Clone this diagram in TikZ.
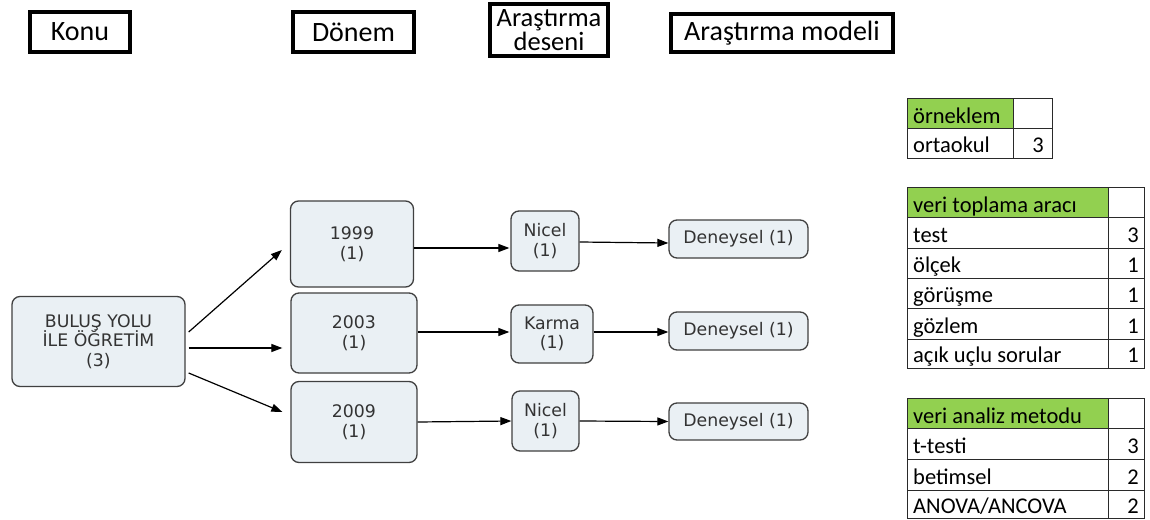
\documentclass[tikz,border=0pt]{standalone}
\usepackage{fontspec}
\setmainfont{Carlito}
\newfontfamily\verd{DejaVu Sans}
\usetikzlibrary{arrows.meta,calc}
\definecolor{boxfill}{HTML}{EAF0F4}
\definecolor{boxline}{HTML}{404040}
\definecolor{xlgreen}{HTML}{92D050}
\definecolor{txtgray}{HTML}{333333}
\definecolor{gridline}{HTML}{2A2A2A}
\begin{document}
\begin{tikzpicture}[x=1pt,y=-1pt,
  hdr/.style={draw, line width=3.5pt, inner sep=0pt, font=\fontsize{28}{25}\selectfont, align=center},
  fbox/.style={draw=boxline, line width=1.3pt, fill=boxfill, rounded corners=8pt,
     font=\verd\fontsize{17.3}{19.5}\selectfont, text=txtgray, align=center, inner sep=0pt},
  arr/.style={-{Triangle[length=11pt,width=8pt]}, line width=1.2pt},
  grid/.style={draw=gridline, line width=1pt},
  cell/.style={font=\fontsize{22.5}{24}\selectfont, inner sep=0pt}
]
\useasboundingbox[fill=white] (0,0) rectangle (1150,519);

% header boxes
\node[hdr, minimum width=100pt, minimum height=40pt] (hkonu) at (80,32) {Konu};
\node[hdr, minimum width=121pt, minimum height=40pt] (hdonem) at (353.5,32) {Dönem};
\node[hdr, minimum width=118pt, minimum height=52pt, font=\fontsize{26.5}{24.5}\selectfont] (hdesen) at (549,30) {Araştırma\\deseni};
\node[hdr, minimum width=222pt, minimum height=38pt] (hmodel) at (782,33) {Araştırma modeli};

% diagram nodes
\node[fbox, minimum width=173pt, minimum height=90pt] (bul) at (98.5,341.5) {BULUŞ YOLU\\İLE ÖĞRETİM\\(3)};
\node[fbox, minimum width=123pt, minimum height=86pt] (d1) at (352,244) {1999\\(1)};
\node[fbox, minimum width=126pt, minimum height=80pt] (d2) at (354,333) {2003\\(1)};
\node[fbox, minimum width=126pt, minimum height=81pt] (d3) at (354,422) {2009\\(1)};
\node[fbox, minimum width=68pt, minimum height=60pt] (n1) at (545,241) {Nicel\\(1)};
\node[fbox, minimum width=82pt, minimum height=58pt] (k2) at (552,334) {Karma\\(1)};
\node[fbox, minimum width=67pt, minimum height=60pt] (n3) at (545.5,421) {Nicel\\(1)};
\node[fbox, minimum width=139pt, minimum height=38pt] (m1) at (738.5,239) {Deneysel (1)};
\node[fbox, minimum width=139pt, minimum height=38pt] (m2) at (738.5,331) {Deneysel (1)};
\node[fbox, minimum width=139pt, minimum height=37pt] (m3) at (738.5,421.5) {Deneysel (1)};

% connectors
\draw[arr] ($(bul.east)+(3,-9.5)$) -- ($(d1.west)+(-8,6)$);
\draw[arr] ($(bul.east)+(3,6.5)$) -- ($(d2.west)+(-8,15)$);
\draw[arr] ($(bul.east)+(3,31.5)$) -- ($(d3.west)+(-8,-10)$);
\draw[arr] ($(d1.east)+(0,4)$) -- ($(n1.west)+(-1,7)$);
\draw[arr] ($(d2.east)+(0,-1)$) -- ($(k2.west)+(-1,-2)$);
\draw[arr] (d3.east) -- (n3.west);
\draw[arr] ($(n1.east)+(0,1)$) -- ($(m1.west)+(0,4)$);
\draw[arr] ($(k2.east)+(0,-2)$) -- ($(m2.west)+(0,1)$);
\draw[arr] (n3.east) -- (m3.west);

% table 1
\fill[xlgreen] (907,98) rectangle (1013,128);
\draw[grid] (907,98) rectangle (1052,158);
\draw[grid] (907,128) -- (1052,128);
\draw[grid] (1013,98) -- (1013,158);
\node[cell, anchor=base west] (t1h) at (913,123) {örneklem};
\node[cell, anchor=base west] (t1a) at (913,152) {ortaokul};
\node[cell, anchor=base east] (t1an) at (1044,152) {3};

% table 2
\fill[xlgreen] (907,187) rectangle (1108,217);
\draw[grid] (907,187) rectangle (1144,368);
\foreach \yy in {217,248,278,308,339} \draw[grid] (907,\yy) -- (1144,\yy);
\draw[grid] (1108,187) -- (1108,368);
\node[cell, anchor=base west] (t2h) at (913,212) {veri toplama aracı};
\node[cell, anchor=base west] (t2a) at (913,242) {test};
\node[cell, anchor=base west] (t2b) at (913,272) {ölçek};
\node[cell, anchor=base west] (t2c) at (913,302) {görüşme};
\node[cell, anchor=base west] (t2d) at (913,333) {gözlem};
\node[cell, anchor=base west] (t2e) at (913,362) {açık uçlu sorular};
\node[cell, anchor=base east] (t2an) at (1139,242) {3};
\node[cell, anchor=base east] (t2bn) at (1139,272) {1};
\node[cell, anchor=base east] (t2cn) at (1139,302) {1};
\node[cell, anchor=base east] (t2dn) at (1139,333) {1};
\node[cell, anchor=base east] (t2en) at (1139,362) {1};

% table 3
\fill[xlgreen] (907,398) rectangle (1108,428);
\draw[grid] (907,398) rectangle (1144,518.5);
\foreach \yy in {428,459,490} \draw[grid] (907,\yy) -- (1144,\yy);
\draw[grid] (1108,398) -- (1108,518.5);
\node[cell, anchor=base west] (t3h) at (913,423) {veri analiz metodu};
\node[cell, anchor=base west] (t3a) at (913,453) {t-testi};
\node[cell, anchor=base west] (t3b) at (913,484) {betimsel};
\node[cell, anchor=base west] (t3c) at (913,513) {ANOVA/ANCOVA};
\node[cell, anchor=base east] (t3an) at (1139,453) {3};
\node[cell, anchor=base east] (t3bn) at (1139,484) {2};
\node[cell, anchor=base east] (t3cn) at (1139,513) {2};
\end{tikzpicture}
\end{document}
